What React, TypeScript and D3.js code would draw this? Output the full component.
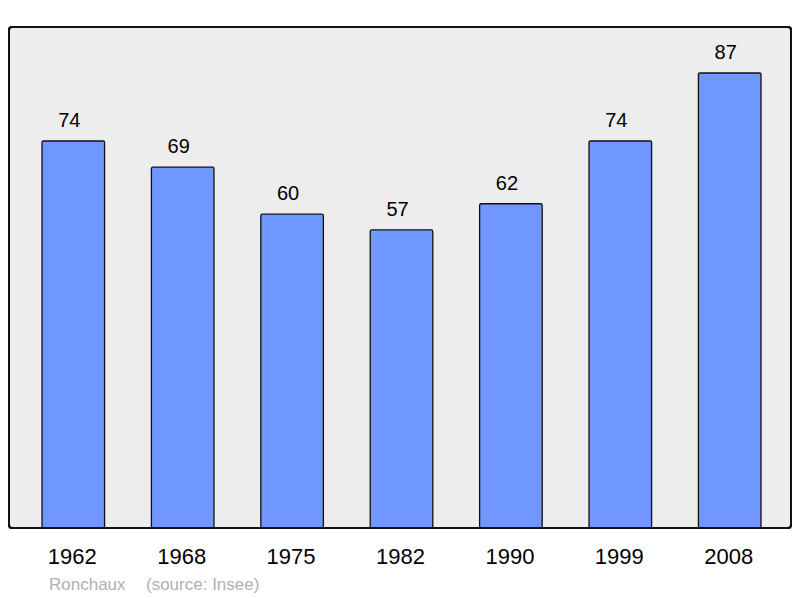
import React from "react";
import * as d3 from "d3";

const years = ["1962", "1968", "1975", "1982", "1990", "1999", "2008"];
const population = [74, 69, 60, 57, 62, 74, 87];
const footerName = "Ronchaux";
const footerSource = "(source: Insee)";

export default function App() {
  const W = 800, H = 598;
  const panel = { x: 9, y: 27, w: 782, h: 501 };
  const baseY = 528;
  const x = d3.scaleBand<string>().domain(years).range([42, 761]).paddingInner(0.428).paddingOuter(0);
  const y = d3.scaleLinear().domain([0, 87]).range([baseY, 73]);
  return (
    <svg width={W} height={H} style={{ position: "absolute", left: 0, top: 0 }} fontFamily="'Liberation Sans', Arial, sans-serif">
      <rect x={panel.x} y={panel.y} width={panel.w} height={panel.h} rx={3} fill="#ededed" stroke="#111" strokeWidth={2} />
      {years.map((yr, i) => (
        <g key={yr}>
          <rect x={x(yr)!} y={y(population[i])} width={x.bandwidth()} height={baseY - y(population[i])} fill="#7096ff" stroke="#111" strokeWidth={1.3} rx={1.5} />
          <text x={x(yr)! + x.bandwidth() / 2 - 4} y={y(population[i]) - 14} textAnchor="middle" fontSize={20} fill="#000">{population[i]}</text>
          <text x={x(yr)! + x.bandwidth() / 2 - 1} y={564} textAnchor="middle" fontSize={22} fill="#000">{yr}</text>
        </g>
      ))}
      <rect x={panel.x} y={panel.y} width={panel.w} height={panel.h} rx={3} fill="none" stroke="#111" strokeWidth={2} />
      <text x={49} y={590} fontSize={17} fill="#b0b0b0">{footerName}</text>
      <text x={146} y={590} fontSize={17} fill="#b0b0b0">{footerSource}</text>
    </svg>
  );
}
